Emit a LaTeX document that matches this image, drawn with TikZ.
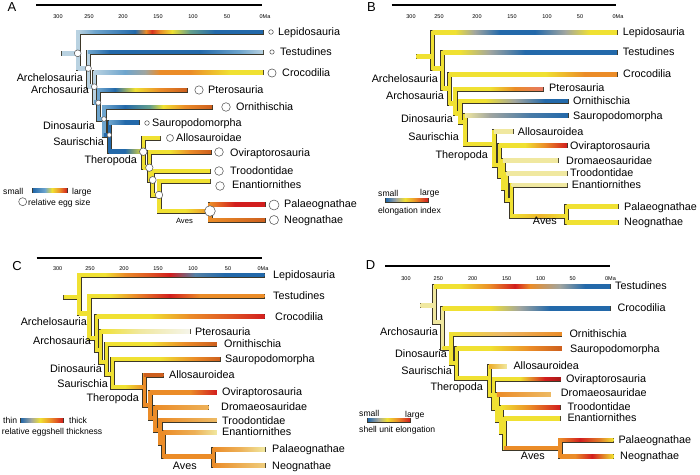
\documentclass[tikz,border=0pt]{standalone}
\usepackage{fontspec}
\setmainfont{Liberation Sans}
\definecolor{cb}{RGB}{35,105,170}
\definecolor{cbl}{RGB}{110,165,205}
\definecolor{cpb}{RGB}{185,210,225}
\definecolor{cteal}{RGB}{100,160,140}
\definecolor{cy}{RGB}{240,225,50}
\definecolor{cyl}{RGB}{240,232,160}
\definecolor{co}{RGB}{235,140,40}
\definecolor{cdo}{RGB}{205,95,30}
\definecolor{cr}{RGB}{210,30,30}
\definecolor{cs}{RGB}{230,120,100}
\definecolor{cg}{RGB}{160,165,160}
\definecolor{cw}{RGB}{245,245,235}
\definecolor{olc}{RGB}{60,55,40}
\newif\ifolpass
% horizontal gradient bar: #1 = y, #2 = list x/colour
\newcommand\HBar[2]{%
 \foreach \xx/\cc [remember=\xx as \px (initially 0), remember=\cc as \pc (initially white), count=\ii] in {#2}{%
  \ifnum\ii>1
   \ifolpass
    \fill[olc] (\px-0.7,#1-2.5) rectangle (\xx+0.7,#1+2.5);
   \else
    \shade[left color=\pc,right color=\cc] (\px-0.1,#1-1.75) rectangle (\xx+0.1,#1+1.75);
   \fi
  \fi}}
% vertical bar: x, ytop, ybottom, colour
\newcommand\VBar[4]{%
 \ifolpass
  \fill[olc] (#1-2.5,#2-2.5) rectangle (#1+2.5,#3+2.5);
 \else
  \fill[#4] (#1-1.75,#2-1.75) rectangle (#1+1.75,#3+1.75);
 \fi}
\newcommand\panelA{%
 \HBar{53.3}{62/cpb,78/cpb}
 \VBar{78}{32}{68.3}{cpb}
 \HBar{32}{78/cpb,95/cbl,135/cb,146/co,152/cr!80!co,160/co,172/cy,190/cteal,215/cb,263/cb}
 \HBar{68.3}{78/cpb,88.3/cpb}
 \VBar{88.3}{52}{86.7}{cpb}
 \HBar{52}{88.3/cbl,110/cb,200/cb,240/cbl,263/cpb}
 \HBar{86.7}{88.3/cpb,94.3/cpb}
 \VBar{94.3}{72.5}{102.7}{cpb}
 \HBar{72.5}{94.3/cpb,125/cbl,145/cg,160/co,190/co,230/cy,263/cy}
 \HBar{102.7}{94.3/cbl,98.3/cbl}
 \VBar{98.3}{90}{119}{cbl}
 \HBar{90}{98.3/cbl,115/cb,135/cy,160/co,187/cdo}
 \HBar{119}{98.3/cbl,104/cbl}
 \VBar{104}{107}{135}{cbl}
 \HBar{107}{104/cbl,125/cb,150/cteal,163/cy,185/co,212/cdo}
 \HBar{135}{104/cb,109.3/cb}
 \VBar{109.3}{122.5}{151.7}{cb}
 \HBar{122.5}{109.3/cbl,125/cb,139/cb}
 \HBar{151.7}{109.3/cb,125/cb,143.3/cy}
 \VBar{143.3}{138}{167.7}{cy}
 \HBar{138}{143.3/cy,160/cy}
 \HBar{167.7}{143.3/cy,149.3/cy}
 \VBar{149.3}{152}{180}{cy}
 \HBar{152}{149.3/cy,170/cy,190/co,211/cdo}
 \HBar{180}{149.3/cy,152.7/cy}
 \VBar{152.7}{171}{195}{cy}
 \HBar{171}{152.7/cy,210/cy}
 \HBar{195}{152.7/cy,159/cy}
 \VBar{159}{181}{211}{cy}
 \HBar{181}{159/cy,210/cy}
 \HBar{211}{159/cy,185/cy,210/co}
 \VBar{210}{204.5}{220}{co}
 \HBar{204.5}{210/co,235/cr,265/cr}
 \HBar{220}{210/co,265/cdo}
 \HBar{190.7}{33/cb,45/cbl,52/cy,60/co,67/cr}
}
\newcommand\panelB{%
 \HBar{56.7}{416.7/cy,432.5/cy}
 \VBar{432.5}{32.3}{68.3}{cy}
 \HBar{32.3}{432.5/cy,455/cy,475/cg,500/cb,535/cb,565/cg,590/cy,617/cy}
 \HBar{68.3}{432.5/cy,442.7/cy}
 \VBar{442.7}{52.3}{88.3}{cy}
 \HBar{52.3}{442.7/cy,460/cy,490/cg,525/cb,617/cb}
 \HBar{88.3}{442.7/cy,449.3/cy}
 \VBar{449.3}{74.3}{103.3}{cy}
 \HBar{74.3}{449.3/cy,545/cy,585/co,617/co}
 \HBar{103.3}{449.3/cy,455/cy}
 \VBar{455}{89}{113.3}{cy}
 \HBar{89}{455/cy,490/cy,515/co,543/cs}
 \HBar{113.3}{455/cy,460/cy}
 \VBar{460}{101}{122}{cy}
 \HBar{101}{460/cy,485/cy,515/cg,545/cb,568/cb}
 \HBar{122}{460/cy,465/cy}
 \VBar{465}{115.7}{144}{cy}
 \HBar{115.7}{465/cyl,490/cg,530/cb!70!cg,568/cb}
 \HBar{144}{465/cy,494/cy}
 \VBar{494}{131.7}{165}{cy}
 \HBar{131.7}{494/cyl,513/cyl}
 \HBar{165}{494/cy,499.3/cy}
 \VBar{499.3}{145.7}{176}{cy}
 \HBar{145.7}{499.3/cy,525/cy,545/co,567/cr}
 \HBar{176}{499.3/cy,503/cy}
 \VBar{503}{160.7}{188}{cy}
 \HBar{160.7}{503/cyl,558/cyl}
 \HBar{188}{503/cy,506.7/cy}
 \VBar{506.7}{173.3}{200}{cy}
 \HBar{173.3}{506.7/cyl,567/cyl}
 \HBar{200}{506.7/cy,511.7/cy}
 \VBar{511.7}{185}{216}{cy}
 \HBar{185}{511.7/cyl,567/cyl}
 \HBar{216}{511.7/cy,540/co!50!cy,566.7/cy}
 \VBar{566.7}{206.7}{222.3}{cy}
 \HBar{206.7}{566.7/cy,618/cy}
 \HBar{222.3}{566.7/cy,618/cy}
 \HBar{200}{386/cb,396/cg,405/cy,416/co,428/cr}
}
\newcommand\panelC{%
 \HBar{297}{64/cy,79/cy}
 \VBar{79}{275}{313.3}{cy}
 \HBar{275}{79/cy,105/cy,125/co,150/co!50!cr,170/cr,195/cg!40!cb,225/cb,264.3/cb}
 \HBar{313.3}{79/cy,89/cy}
 \VBar{89}{296}{338}{cy}
 \HBar{296}{89/cy,110/cy,135/co,170/cr,200/co,264.3/co}
 \HBar{338}{89/cy,96.7/cy}
 \VBar{96.7}{316.7}{350}{cy}
 \HBar{316.7}{96.7/cy,150/cy,190/co,230/co!50!cr,264.3/cr}
 \HBar{350}{96.7/cy,100.7/cy}
 \VBar{100.7}{331.7}{362}{cy}
 \HBar{331.7}{100.7/cy,140/cyl,190/cw}
 \HBar{362}{100.7/cy,106.7/cy}
 \VBar{106.7}{344}{374}{cy}
 \HBar{344}{106.7/cy,150/cy,185/co,216.7/cdo}
 \HBar{374}{106.7/cy,112.3/cy}
 \VBar{112.3}{359}{387}{cy}
 \HBar{359}{112.3/cy,160/cy,195/co,220/cdo}
 \HBar{387}{112.3/cy,125/cy,144.3/co}
 \VBar{144.3}{375}{405}{co}
 \HBar{375}{144.3/cdo,163.3/cdo}
 \HBar{405}{144.3/co,150/co}
 \VBar{150}{392.3}{418}{co}
 \HBar{392.3}{150/co,190/co,216.7/cr}
 \HBar{418}{150/co,155/co}
 \VBar{155}{407.3}{430}{co}
 \HBar{407.3}{155/co,208.3/co!60!cyl}
 \HBar{430}{155/co,160/co}
 \VBar{160}{420}{443}{co}
 \HBar{420}{160/co,216.7/co!50!cyl}
 \HBar{443}{160/co,163.5/co}
 \VBar{163.5}{432.3}{456.7}{co}
 \HBar{432.3}{163.5/co,195/co!60!cyl,216.7/cyl}
 \HBar{456.7}{163.5/co,213.3/co}
 \VBar{213.3}{449.3}{465.7}{co}
 \HBar{449.3}{213.3/co,240/co!60!cyl,265/cyl}
 \HBar{465.7}{213.3/co,265/cyl!70!co}
 \HBar{420.7}{21/cb,31/cg,40/cy,51/co,63/cr}
}
\newcommand\panelD{%
 \HBar{305.7}{420.7/cyl,434.3/cyl}
 \VBar{434.3}{286.7}{322}{cyl}
 \HBar{286.7}{434.3/cy,460/cy,490/co,515/cr,530/co,560/cg,585/cb,610/cb}
 \HBar{322}{434.3/cyl,442.7/cyl}
 \VBar{442.7}{308.3}{348}{cyl}
 \HBar{308.3}{442.7/cy,490/cy,520/cg,550/cb,610/cb}
 \HBar{348}{442.7/cy,451/cy}
 \VBar{451}{334}{363}{cy}
 \HBar{334}{451/cy,500/cyl!50!co,561.7/co}
 \HBar{363}{451/cy,456.7/cy}
 \VBar{456.7}{348.3}{378}{cy}
 \HBar{348.3}{456.7/cy,490/cy,530/co,561.7/cdo}
 \HBar{378}{456.7/cy,489.3/cy}
 \VBar{489.3}{366.7}{395}{cy}
 \HBar{366.7}{489.3/co!60!cy,506.7/cyl}
 \HBar{395}{489.3/cy,493.3/cy}
 \VBar{493.3}{379}{408}{cy}
 \HBar{379}{493.3/cy,520/cy,545/cr,560.7/cr!80!black}
 \HBar{408}{493.3/cy,497/cy}
 \VBar{497}{394.3}{420}{cy}
 \HBar{394.3}{497/co,550.7/co!50!cyl}
 \HBar{420}{497/cy,501/cy}
 \VBar{501}{407.7}{432}{cy}
 \HBar{407.7}{501/cy,530/co,560/cr}
 \HBar{432}{501/cy,504.3/cy}
 \VBar{504.3}{418.3}{448}{cy}
 \HBar{418.3}{504.3/cy,560/cy}
 \HBar{448}{504.3/co,560/co}
 \VBar{560}{440}{456.7}{co}
 \HBar{440}{560/co,580/cr,600/cr!50!cy,613.3/cy}
 \HBar{456.7}{560/co,575/co,592/cr,613.3/cy}
 \HBar{420}{368/cb,378/cg,387/cy,398/co,410/cr}
}
\tikzset{
 taxon/.style={font=\fontsize{10.8}{12}\selectfont, anchor=west, inner sep=0pt, text height=0.7em, text depth=0pt},
 clade/.style={taxon, anchor=east},
 legtext/.style={font=\fontsize{8.6}{10}\selectfont, anchor=west, inner sep=0pt, text height=0.7em, text depth=0pt},
 ticklab/.style={font=\fontsize{5.5}{6}\selectfont, inner sep=0pt, text height=0.7em, text depth=0pt},
 panellabel/.style={font=\fontsize{13}{15}\selectfont, inner sep=0pt, text height=0.7em, text depth=0pt},
 circ/.style={fill=white, draw=black!65, line width=0.55pt},
 axisline/.style={line width=1.8pt, black},
}
\begin{document}
\begin{tikzpicture}[x=1pt,y=-1pt]
\useasboundingbox (0,0) rectangle (700,474);
\fill[white] (0,0) rectangle (700,474);
% bars: outlines first, then fills
\olpasstrue \panelA \panelB \panelC \panelD
\olpassfalse \panelA \panelB \panelC \panelD
% axes
\coordinate (axA0) at (36,5.3); \coordinate (axA1) at (262,5.3);
\coordinate (axB0) at (391.7,5.3); \coordinate (axB1) at (615.7,5.3);
\coordinate (axC0) at (36.7,258.3); \coordinate (axC1) at (261.7,258.3);
\coordinate (axD0) at (385,266); \coordinate (axD1) at (610,266);
\draw[axisline] (axA0) -- (axA1);
\draw[axisline] (axB0) -- (axB1);
\draw[axisline] (axC0) -- (axC1);
\draw[axisline] (axD0) -- (axD1);
\foreach \t/\x [count=\k] in {300/58,250/89,200/123,150/158,100/193,50/227,0Ma/265}
  \node[ticklab] (tA\k) at (\x,15) {\t};
\foreach \t/\x [count=\k] in {300/411,250/439,200/477,150/512,100/547,50/580,0Ma/618}
  \node[ticklab] (tB\k) at (\x,15) {\t};
\foreach \t/\x [count=\k] in {300/57.7,250/90,200/124,150/158,100/193,50/228,0Ma/263}
  \node[ticklab] (tC\k) at (\x,267.3) {\t};
\foreach \t/\x [count=\k] in {300/406,250/438.3,200/472.7,150/506.7,100/540.7,50/572.7,0Ma/610.5}
  \node[ticklab] (tD\k) at (\x,276.7) {\t};
\node[panellabel] (pA) at (12,7.5) {A};
\node[panellabel] (pB) at (371.5,7.5) {B};
\node[panellabel] (pC) at (17,266.5) {C};
\node[panellabel] (pD) at (370.5,266.3) {D};
% egg size circles (panel A)
\foreach \x/\y/\r in {77.7/53.3/3.4, 88.3/68.3/3.1, 94.3/86.7/2.9, 98.3/102.7/2.6, 104/119/2.4, 109.3/135/2.3,
  143.3/151.7/3.8, 149.3/167.7/3.7, 152.7/180/3.5, 159/195/3.8, 210/211/5.3,
  271/32/2.3, 272/52/2.2, 272/73/4.1, 199/90/4.2, 226/107/4.3, 147/123/2.3, 170/138/3.5,
  219/152/4.3, 219/171/4.3, 220/186/4.3, 274/205/5, 274/220/4.5, 22.7/201.7/4}
  \draw[circ] (\x,\y) circle (\r pt);
% panel A labels
\node[taxon] (A-lep) at (278,32) {Lepidosauria};
\node[taxon] (A-tes) at (280,52) {Testudines};
\node[taxon] (A-cro) at (282,72.5) {Crocodilia};
\node[taxon] (A-pte) at (208,90) {Pterosauria};
\node[taxon] (A-orn) at (236,107) {Ornithischia};
\node[taxon] (A-sau) at (152,122.5) {Sauropodomorpha};
\node[taxon] (A-all) at (176,138) {Allosauroidae};
\node[taxon] (A-ovi) at (230,152.5) {Oviraptorosauria};
\node[taxon] (A-tro) at (230,171) {Troodontidae};
\node[taxon] (A-ena) at (232,185) {Enantiornithes};
\node[taxon] (A-pal) at (284,204) {Palaeognathae};
\node[taxon] (A-neo) at (284,220) {Neognathae};
\node[clade] (A-archel) at (83,78) {Archelosauria};
\node[clade] (A-archo) at (89,90) {Archosauria};
\node[clade] (A-dino) at (95,126) {Dinosauria};
\node[clade] (A-saur) at (104,142) {Saurischia};
\node[clade] (A-thero) at (137,159.5) {Theropoda};
\node[clade, font=\fontsize{7.6}{9}\selectfont] (A-aves) at (193,220) {Aves};
\node[legtext] (A-small) at (3,191) {small};
\node[legtext] (A-large) at (72,191) {large};
\node[legtext] (A-egg) at (28,201.5) {relative egg size};
% panel B labels
\node[taxon] (B-lep) at (622.7,32.3) {Lepidosauria};
\node[taxon] (B-tes) at (622.7,52.3) {Testudines};
\node[taxon] (B-cro) at (623,74.3) {Crocodilia};
\node[taxon] (B-pte) at (549,88) {Pterosauria};
\node[taxon] (B-orn) at (573,100.5) {Ornithischia};
\node[taxon] (B-sau) at (573,115.5) {Sauropodomorpha};
\node[taxon] (B-all) at (517.7,131.5) {Allosauroidea};
\node[taxon] (B-ovi) at (570,145.5) {Oviraptorosauria};
\node[taxon] (B-dro) at (566,160.5) {Dromaeosauridae};
\node[taxon] (B-tro) at (570,172.5) {Troodontidae};
\node[taxon] (B-ena) at (571.7,184.5) {Enantiornithes};
\node[taxon] (B-pal) at (624,206.5) {Palaeognathae};
\node[taxon] (B-neo) at (624,222.3) {Neognathae};
\node[clade] (B-archel) at (438,79) {Archelosauria};
\node[clade] (B-archo) at (444,96) {Archosauria};
\node[clade] (B-dino) at (453,119) {Dinosauria};
\node[clade] (B-saur) at (459,137) {Saurischia};
\node[clade] (B-thero) at (488,155) {Theropoda};
\node[clade] (B-aves) at (557,221) {Aves};
\node[legtext] (B-small) at (378,192.5) {small};
\node[legtext] (B-large) at (420,191.5) {large};
\node[legtext] (B-idx) at (378,210) {elongation index};
% panel C labels
\node[taxon] (C-lep) at (273,274.5) {Lepidosauria};
\node[taxon] (C-tes) at (273,296) {Testudines};
\node[taxon] (C-cro) at (275,316.7) {Crocodilia};
\node[taxon] (C-pte) at (195,331.5) {Pterosauria};
\node[taxon] (C-orn) at (224,344) {Ornithischia};
\node[taxon] (C-sau) at (225,358.5) {Sauropodomorpha};
\node[taxon] (C-all) at (169,374.5) {Allosauroidea};
\node[taxon] (C-ovi) at (222,392.3) {Oviraptorosauria};
\node[taxon] (C-dro) at (221,407.3) {Dromaeosauridae};
\node[taxon] (C-tro) at (222,420.5) {Troodontidae};
\node[taxon] (C-ena) at (222,432.3) {Enantiornithes};
\node[taxon] (C-pal) at (272,449.3) {Palaeognathae};
\node[taxon] (C-neo) at (272,465.7) {Neognathae};
\node[clade] (C-archel) at (87,322.3) {Archelosauria};
\node[clade] (C-archo) at (91,341) {Archosauria};
\node[clade] (C-dino) at (102,369) {Dinosauria};
\node[clade] (C-saur) at (108,384) {Saurischia};
\node[clade] (C-thero) at (139,398.3) {Theropoda};
\node[clade] (C-aves) at (197,465.7) {Aves};
\node[legtext] (C-thin) at (3,420) {thin};
\node[legtext] (C-thick) at (69,420) {thick};
\node[legtext] (C-rel) at (1.7,431) {relative eggshell thickness};
% panel D labels
\node[taxon] (D-tes) at (615,286.3) {Testudines};
\node[taxon] (D-cro) at (617.3,308.3) {Crocodilia};
\node[taxon] (D-orn) at (569.3,334) {Ornithischia};
\node[taxon] (D-sau) at (570,349) {Sauropodomorpha};
\node[taxon] (D-all) at (513.3,365.5) {Allosauroidea};
\node[taxon] (D-ovi) at (566,379) {Oviraptorosauria};
\node[taxon] (D-dro) at (560.7,393) {Dromaeosauridae};
\node[taxon] (D-tro) at (567.3,407.3) {Troodontidae};
\node[taxon] (D-ena) at (567.3,417.7) {Enantiornithes};
\node[taxon] (D-pal) at (618.3,440) {Palaeognathae};
\node[taxon] (D-neo) at (620,456.3) {Neognathae};
\node[clade] (D-archo) at (438,332.3) {Archosauria};
\node[clade] (D-dino) at (447,354.3) {Dinosauria};
\node[clade] (D-saur) at (452,371) {Saurischia};
\node[clade] (D-thero) at (483,386.7) {Theropoda};
\node[clade] (D-aves) at (545,456) {Aves};
\node[legtext] (D-small) at (359,413.3) {small};
\node[legtext] (D-large) at (405,414) {large};
\node[legtext] (D-sue) at (359,429) {shell unit elongation};
\end{tikzpicture}
\end{document}
